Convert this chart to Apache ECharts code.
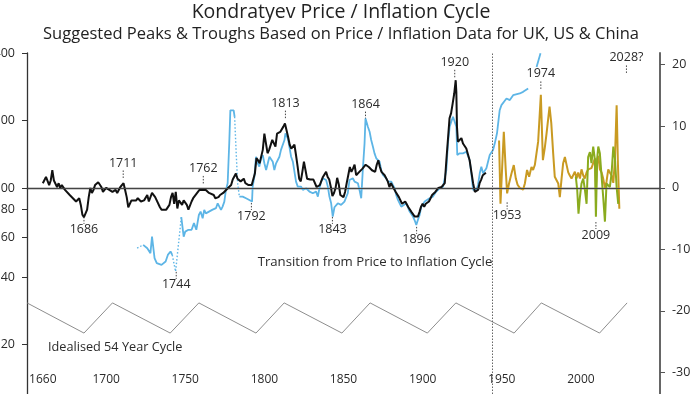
<!DOCTYPE html>
<html>
<head>
<meta charset="utf-8">
<script src="https://cdn.jsdelivr.net/npm/echarts@6/dist/echarts.min.js"></script>
<style>html,body{margin:0;padding:0;background:#fff;}#c{width:700px;height:394px;}</style>
</head>
<body>
<div id="c"></div>
<script>
// ---------- DATA ----------
const xTickYears = [1660, 1700, 1750, 1800, 1850, 1900, 1950, 2000];
const leftTicks = [20, 40, 60, 80, 100, 200, 400];
const rightTicks = [-30, -20, -10, 0, 10, 20];

// Price index (left, log scale) - black
const blackData = [
[1660,105],[1662,112],[1664,103],[1665,108],[1666,120],[1667,108],[1669,101],[1670,105],[1671,100],[1672,103],
[1674,98],[1675,98],[1677,93],[1679,90],[1681,87],[1682,88],[1683,90],[1684,84],[1685,76],[1686,74],
[1687,75],[1688,80],[1689,91],[1690,100],[1691,95],[1692,98],[1693,103],[1695,106],[1696,108],[1697,101],
[1698,96],[1700,100],[1701,101],[1702,98],[1703,100],[1704,96],[1706,98],[1707,95],[1709,101],[1711,105],
[1712,98],[1713,91],[1714,82],[1716,88],[1717,87],[1719,88],[1720,90],[1722,87],[1724,88],[1726,93],
[1727,87],[1729,95],[1731,91],[1732,90],[1734,82],[1735,80],[1738,80],[1740,84],[1741,91],[1742,95],
[1743,85],[1744,96],[1745,81],[1746,88],[1748,84],[1749,88],[1751,84],[1752,80],[1754,87],[1755,90],
[1758,96],[1759,98],[1761,98],[1763,98],[1765,95],[1768,93],[1769,90],[1771,91],[1772,93],[1774,95],
[1775,96],[1777,100],[1779,103],[1780,109],[1781,110],[1782,116],[1783,110],[1784,109],[1785,107],[1787,110],
[1788,105],[1790,103],[1792,103],[1793,101],[1794,116],[1795,136],[1796,133],[1797,129],[1798,131],[1799,148],
[1800,175],[1801,178],[1802,143],[1803,148],[1804,150],[1805,164],[1806,161],[1807,153],[1808,175],[1809,173],
[1810,178],[1811,180],[1812,188],[1813,194],[1814,181],[1815,169],[1816,156],[1817,150],[1818,153],[1819,156],
[1820,140],[1821,125],[1822,110],[1823,107],[1824,118],[1825,131],[1826,120],[1827,110],[1828,112],[1829,109],
[1830,107],[1831,109],[1832,107],[1833,101],[1834,100],[1835,103],[1837,112],[1839,118],[1840,112],[1841,109],
[1842,101],[1843,92],[1844,95],[1845,100],[1846,111],[1847,104],[1848,93],[1849,92],[1850,91],[1851,96],
[1852,105],[1853,114],[1854,124],[1855,118],[1856,122],[1857,127],[1858,114],[1859,116],[1860,118],[1861,120],
[1862,122],[1863,124],[1864,127],[1866,124],[1868,120],[1870,118],[1871,127],[1872,133],[1873,124],[1874,118],
[1876,114],[1877,112],[1878,107],[1879,101],[1880,105],[1881,103],[1883,96],[1885,91],[1887,85],[1889,87],
[1891,82],[1893,78],[1895,74.5],[1896,73],[1897,74.5],[1898,78],[1899,82.5],[1900,85],[1901,82.5],[1902,85],
[1904,87],[1905,90],[1906,93],[1908,96],[1910,100],[1912,101],[1914,105],[1915,133],[1917,205],[1918,216],
[1919,239],[1920,265],[1920.9,303],[1921.3,269],[1921.7,188],[1922.3,161],[1923.4,164],[1924.5,167],[1925.5,158],[1926.6,156],
[1927.6,150],[1928.7,148],[1929.7,133],[1930.8,118],[1931.9,105],[1933,96],[1934,95],[1935,98],[1936,105],[1937,109],
[1938,114],[1939,112],[1940,117]
];

// Price index (left, log scale) - blue, solid parts (null = break)
const blueData = [
[1723.4,55.7],[1726,53.8],[1728,51.1],[1729,60.6],[1730,61.7],[1730.6,48.6],[1732,46.1],[1733,45.3],[1735,45.3],[1737.6,46.9],
[1739,50.2],[1740.7,52],[1741.8,50.2],[1745,null],
[1747.5,74],[1749,60.6],[1750,63.8],[1752,65],[1754,65],[1755.5,69.6],[1757,65],[1758.6,75.7],[1759.7,78.4],[1761,73.2],
[1762,79.8],[1763,77],[1765,78.4],[1767,79.8],[1769.4,81.2],[1770.5,85.4],[1771.5,86.9],[1772.6,79.8],[1773.6,82.5],[1774.7,86.9],
[1775.7,98],[1776.8,105],[1777.8,158.3],[1778.5,222.4],[1779.3,226.5],[1780.6,222.4],[1781.2,208],[1782.5,null],
[1784.2,91.5],[1786.3,91.5],[1788.4,90],[1790.5,88.4],[1791.6,90],[1792.2,86.9],[1792.6,101.4],[1793.7,112.3],[1794.7,137.9],[1795.8,128.9],
[1796.8,124.5],[1797.9,135.7],[1799,140.3],[1800,128.9],[1801.1,120.3],[1802.1,118.2],[1803.2,137.9],[1804.2,137.9],[1805.3,131],[1806.3,120.3],
[1807.4,128.9],[1808.4,131],[1809.5,137.9],[1810.5,148],[1811.6,150.4],[1812.7,163.8],[1813.3,175.5],[1814.8,166.6],[1815.8,152.9],[1816.9,137.9],
[1818,131],[1819,118.2],[1820,106.7],[1821.1,101.4],[1822.2,99.7],[1823.2,101.4],[1824.3,98],[1825.3,99.7],[1826.4,99.7],[1828.5,96.3],
[1830.6,94.7],[1831.6,94.7],[1832.7,96.3],[1833.8,91.5],[1834.8,99.7],[1835.9,106.7],[1836.9,110.5],[1838,108.6],[1839,108.6],[1840.1,101.4],
[1841.1,91.5],[1842.2,85.4],[1843.2,74.5],[1844.3,82],[1846.4,85.4],[1848.5,84],[1850.6,86.9],[1852.7,94.7],[1853.8,108.6],[1855.9,110.5],
[1857,106.7],[1859.1,104.9],[1860.1,98],[1861.2,90],[1862.2,120.3],[1863.3,158.3],[1863.9,204.5],[1865.4,187.7],[1866.5,178.4],[1867.5,163.8],
[1868.6,152.9],[1869.6,142.8],[1870.7,135.7],[1871.7,133.3],[1872.8,131],[1873.8,120.3],[1874.9,114.3],[1876,112.3],[1877,110.5],[1878.1,106.7],
[1879.1,104.9],[1880.2,106.7],[1881.2,103.1],[1882.3,99.7],[1883.3,93],[1884.4,88.4],[1885.4,86.9],[1886.5,82.5],[1887.6,81.2],[1889.7,85.4],
[1891.8,78.4],[1893.9,74.5],[1894.9,71.9],[1896,68.4],[1897,71.9],[1898.1,75.8],[1899.2,82.5],[1900.2,84],[1901.3,86.9],[1902.3,88.4],
[1904.4,90],[1906.5,91.5],[1908.6,96.3],[1910.8,99.7],[1912.9,101.4],[1915,120.3],[1916,158.3],[1917.1,187.7],[1918.1,197.9],[1919.2,208],
[1920.2,211.8],[1921.3,187.7],[1921.9,140.3],[1923.4,142.8],[1925.5,142.8],[1927.6,145.1],[1928.7,147.7],[1929.7,133.3],[1930.8,116.3],[1931.9,98],
[1932.9,96.3],[1934,98],[1935,103.1],[1936.1,116.3],[1937.1,124.5],[1938.2,116.3],[1940.3,122.4],[1942.4,140.3],[1944.5,147.7],[1945.6,158.3],
[1947,175.5],[1948.7,222.6],[1949.8,234.5],[1950.8,230.6],[1953,251],[1955.1,247],[1957.2,259.8],[1961.4,264.5],[1963.5,268.9],[1966.7,278.3],
[1969,null],[1972,347],[1974.5,400]
];

// Blue, dotted (bridged) parts
const blueDottedData = [
[1719.6,53.8],[1723.4,55.7],[1730,null],
[1741.8,50.2],[1743.9,42.3],[1747.5,74],[1760,null],
[1781.2,208],[1782.1,148],[1783.1,105],[1784.2,91.5]
];

// Inflation % (right axis) - gold
const goldData = [
[1948.3,7.7],[1949.2,-2.6],[1951.3,9.1],[1952.5,3],[1953.4,-0.9],[1954.6,0.7],[1956.1,2.3],[1957.6,3.7],[1958.9,1.5],[1960,0.5],
[1961.4,0],[1963.5,-0.3],[1964.6,0.7],[1966,2.9],[1967.3,1.8],[1968.8,3.4],[1969.8,2.9],[1970.9,3.7],[1971.9,3.4],[1973,7.5],
[1974.7,15.1],[1976,4.5],[1977.2,6.5],[1978.3,8.8],[1980.2,13.2],[1981.3,10.5],[1982.5,5.6],[1983.5,1.8],[1984.6,1.8],[1985.7,0.7],
[1986.7,-1.5],[1987.8,1.5],[1988.8,4],[1989.9,5],[1990.9,3.8],[1992,2.5],[1993,2],[1994.1,1.5],[1995.1,1.8],[1996.2,2.6],
[1997.3,1.5],[1998.3,2.5],[1999.4,1.5],[2000.4,3],[2001.5,2],[2002.5,1.5],[2003.6,2.5],[2004.6,3],[2005.7,3.3],[2006.7,3.2],
[2007.8,4],[2008.9,4.8],[2009.5,-0.5],[2010.3,4.5],[2011,5.2],[2012,3],[2013.1,2.5],[2014.1,1.5],[2015.2,0],[2016.2,1],
[2017.3,3],[2018.3,2.5],[2019.4,2],[2020.5,0.8],[2021.5,4.5],[2022.6,13.4],[2023.4,4],[2024.3,-3.4]
];

// Inflation % (right axis) - green
const greenData = [
[1996.8,1.8],[1997.7,-0.4],[1998.5,-4.2],[1999.4,-1.5],[2000.4,0.7],[2001.5,1.5],[2002.5,-0.2],[2003.6,-2.6],[2004.6,5],[2005.7,5.8],
[2006.7,4],[2007.8,6.7],[2008.9,4.5],[2009.5,-4.7],[2010.3,4.8],[2011,6.7],[2012,5.6],[2013.1,1.8],[2014.1,-1.5],[2015.2,-5.5],
[2016.2,0.7],[2017.3,1],[2018.3,0.1],[2019.4,2.3],[2020.5,6.7],[2021.5,4.8],[2022.6,0.1],[2023.6,-2.6]
];

// Idealised 54 year cycle (right axis)
const cycleYears = [1650, 1686, 1704, 1740.5, 1758.6, 1794.7, 1812.5, 1849, 1866.8, 1903, 1921, 1957.8, 1975, 2011.8, 2029.2];
const cycleValues = [-18.7, -23.6, -18.7, -23.6, -18.7, -23.6, -18.7, -23.6, -18.7, -23.6, -18.7, -23.6, -18.7, -23.6, -18.7];

// Peak / trough annotations (left axis): year, anchor value, 1=above / -1=below
const annLeftLabels = ['1686', '1711', '1744', '1762', '1792', '1813', '1843', '1864', '1896', '1920'];
const annLeftYears  = [1686, 1710.8, 1744.3, 1761.4, 1791.8, 1813.3, 1843, 1863.9, 1896.2, 1920.3];
const annLeftValues = [75, 109.7, 42.6, 103.7, 86.6, 203, 75, 201, 67.7, 309];
const annLeftSide   = [-1, 1, -1, 1, -1, 1, -1, 1, -1, 1];
// Annotations on right axis
const annRightLabels = ['1953', '1974', '2009', '2028?'];
const annRightYears  = [1953.4, 1974.7, 2009.5, 2028.8];
const annRightValues = [-2.2, 15.9, -5.4, 18.5];
const annRightSide   = [-1, 1, -1, 1];

const transitionYear = 1944.3;

// ---------- CHART ----------
const FONT = 'Open Sans';
const TXT = '#2b2b2b';
const chart = echarts.init(document.getElementById('c'), null, {renderer: 'canvas'});

function annRenderer(labels) {
  return function (params, api) {
    const p = api.coord([api.value(0), api.value(1)]);
    const s = api.value(2);
    const tickEnd = s > 0 ? p[1] - 9 : p[1] + 8;
    const ty = s > 0 ? p[1] - 16 : p[1] + 14;
    return {
      type: 'group',
      children: [
        {type: 'line', shape: {x1: p[0], y1: p[1] - s, x2: p[0], y2: tickEnd},
         style: {stroke: '#444', lineWidth: 1, lineDash: [1.5, 1.5]}},
        {type: 'text', x: p[0], y: ty,
         style: {text: labels[params.dataIndex], textAlign: 'center', textVerticalAlign: 'middle',
                 fontSize: 12.5, fontFamily: FONT, fill: TXT}}
      ]
    };
  };
}

const option = {
  animation: false,
  backgroundColor: '#fff',
  textStyle: {fontFamily: FONT},
  grid: {left: 27, right: 40, top: 53, bottom: 0, containLabel: false, outerBoundsMode: 'none'},
  xAxis: {
    type: 'value', min: 1650, max: 2050, position: 'bottom', offset: -29,
    axisLine: {show: true, lineStyle: {color: '#333', width: 1.3}},
    axisTick: {show: false},
    splitLine: {show: false},
    axisLabel: {customValues: xTickYears, margin: 9, fontSize: 12, color: TXT, fontFamily: FONT,
                formatter: v => String(v)}
  },
  yAxis: [
    {
      type: 'log', logBase: 10, min: 12, max: 401, position: 'left',
      axisLine: {show: true, lineStyle: {color: '#333', width: 1.3}},
      axisTick: {show: true, customValues: leftTicks, length: 5, lineStyle: {color: '#333'}},
      splitLine: {show: false},
      axisLabel: {customValues: leftTicks, margin: 12, fontSize: 12.5, color: TXT, fontFamily: FONT,
                  formatter: v => String(Math.round(v))}
    },
    {
      type: 'value', min: -33.5, max: 21.9, position: 'right',
      axisLine: {show: true, lineStyle: {color: '#666', width: 2}},
      axisTick: {show: true, customValues: rightTicks, length: 5, lineStyle: {color: '#555'}},
      splitLine: {show: false},
      axisLabel: {customValues: rightTicks, margin: 12, fontSize: 12.5, color: TXT, fontFamily: FONT,
                  formatter: v => String(v)}
    }
  ],
  graphic: [
    {type: 'text', x: 341, y: 12, style: {text: 'Kondratyev Price / Inflation Cycle', textAlign: 'center', textVerticalAlign: 'middle', fontSize: 19.5, fontFamily: FONT, fill: '#222'}},
    {type: 'text', x: 341, y: 34, style: {text: 'Suggested Peaks & Troughs Based on Price / Inflation Data for UK, US & China', textAlign: 'center', textVerticalAlign: 'middle', fontSize: 16.5, fontFamily: FONT, fill: '#222'}},
    {type: 'text', x: 375, y: 262, style: {text: 'Transition from Price to Inflation Cycle', textAlign: 'center', textVerticalAlign: 'middle', fontSize: 13.2, fontFamily: FONT, fill: TXT}},
    {type: 'text', x: 48, y: 347, style: {text: 'Idealised 54 Year Cycle', textAlign: 'left', textVerticalAlign: 'middle', fontSize: 12.7, fontFamily: FONT, fill: TXT}}
  ],
  series: [
    {
      name: 'cycle', type: 'line', yAxisIndex: 1, symbol: 'none',
      data: cycleYears.map((y, i) => [y, cycleValues[i]]),
      lineStyle: {color: '#808080', width: 0.9},
      markLine: {
        silent: true, symbol: 'none', label: {show: false},
        lineStyle: {color: '#666', type: [1.5, 1.5], width: 1},
        data: [{xAxis: transitionYear}]
      }
    },
    {
      name: 'zero', type: 'line', yAxisIndex: 1, symbol: 'none', data: [],
      markLine: {
        silent: true, symbol: 'none', label: {show: false},
        lineStyle: {color: '#444', type: 'solid', width: 1},
        data: [{yAxis: 0}]
      }
    },
    {
      name: 'blueDotted', type: 'line', yAxisIndex: 0, symbol: 'none', connectNulls: false,
      data: blueDottedData, lineStyle: {color: '#5db5e6', width: 1.4, type: [1.5, 2]}
    },
    {
      name: 'blue', type: 'line', yAxisIndex: 0, symbol: 'none', connectNulls: false,
      data: blueData, lineStyle: {color: '#5db5e6', width: 1.8}
    },
    {
      name: 'black', type: 'line', yAxisIndex: 0, symbol: 'none',
      data: blackData, lineStyle: {color: '#111', width: 2}
    },
    {
      name: 'gold', type: 'line', yAxisIndex: 1, symbol: 'none',
      data: goldData, lineStyle: {color: '#c99a22', width: 2}
    },
    {
      name: 'green', type: 'line', yAxisIndex: 1, symbol: 'none',
      data: greenData, lineStyle: {color: '#8aab1e', width: 2}
    },
    {
      name: 'annLeft', type: 'custom', yAxisIndex: 0, silent: true, clip: false,
      data: annLeftYears.map((y, i) => [y, annLeftValues[i], annLeftSide[i]]),
      renderItem: annRenderer(annLeftLabels)
    },
    {
      name: 'annRight', type: 'custom', yAxisIndex: 1, silent: true, clip: false,
      data: annRightYears.map((y, i) => [y, annRightValues[i], annRightSide[i]]),
      renderItem: annRenderer(annRightLabels)
    }
  ]
};
chart.setOption(option);
</script>
</body>
</html>
